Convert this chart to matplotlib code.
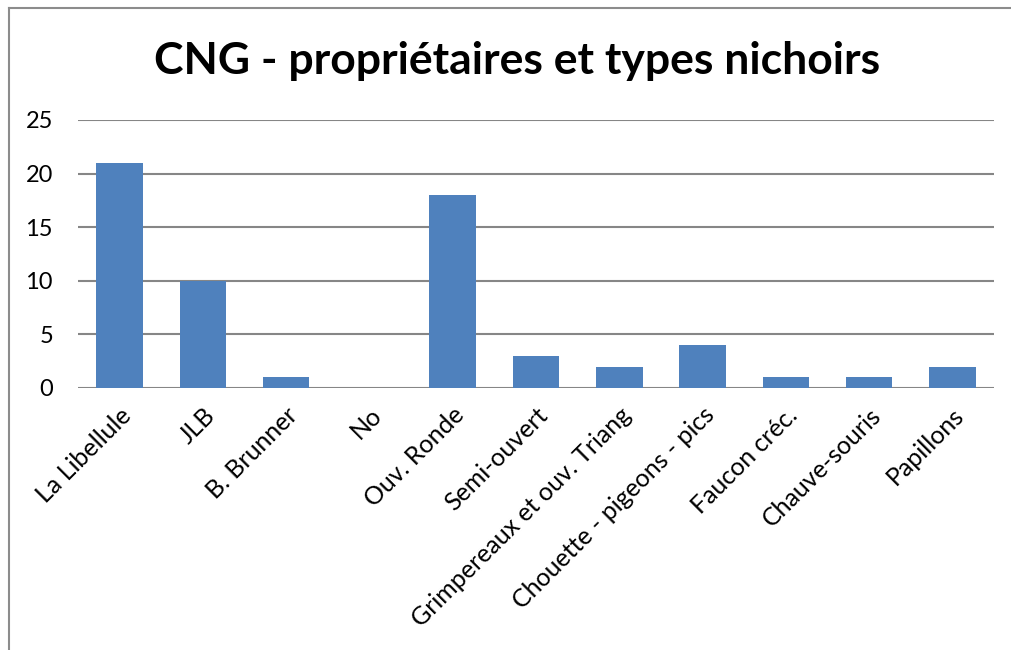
import matplotlib.pyplot as plt
from matplotlib.lines import Line2D

categories = ['La Libellule', 'JLB', 'B. Brunner', 'No', 'Ouv. Ronde', 'Semi-ouvert',
              'Grimpereaux et ouv. Triang', 'Chouette - pigeons - pics',
              'Faucon créc.', 'Chauve-souris', 'Papillons']
values = [21, 10, 1, 0, 18, 3, 2, 4, 1, 1, 2]
y_ticks = [0, 5, 10, 15, 20, 25]

plt.rcParams['font.family'] = ['Lato', 'DejaVu Sans']

W, H = 1011, 650
fig = plt.figure(figsize=(W / 100, H / 100), dpi=100)
ax = fig.add_axes([78 / W, 1 - 388 / H, (994 - 78) / W, (388 - 120) / H])

x = range(len(categories))
ax.bar(x, values, width=0.56, color='#4F81BD', zorder=3)
ax.set_xlim(-0.5, len(categories) - 0.5)
ax.set_ylim(0, 25)
ax.set_yticks(y_ticks)
ax.set_yticklabels([str(v) for v in y_ticks], fontsize=17)
ax.tick_params(axis='y', length=0, pad=18)
ax.tick_params(axis='x', length=0, pad=11)
ax.set_xticks(list(x))
ax.set_xticklabels(categories, rotation=45, ha='right', va='top',
                   rotation_mode='anchor', fontsize=18)
ax.grid(axis='y', color='#868686', linewidth=1.5, zorder=0)
for s in ax.spines.values():
    s.set_visible(False)

fig.text(517 / W, 1 - 61 / H, 'CNG - propriétaires et types nichoirs',
         ha='center', va='center', fontsize=32, fontweight='bold')

# cadre (bord gauche et haut visibles)
fig.add_artist(Line2D([9 / W, 9 / W], [0, 1 - 8 / H], color='#8c8c8c', lw=1.5))
fig.add_artist(Line2D([9 / W, 1], [1 - 8 / H, 1 - 8 / H], color='#8c8c8c', lw=1.5))

fig.savefig('out.png', dpi=100)
